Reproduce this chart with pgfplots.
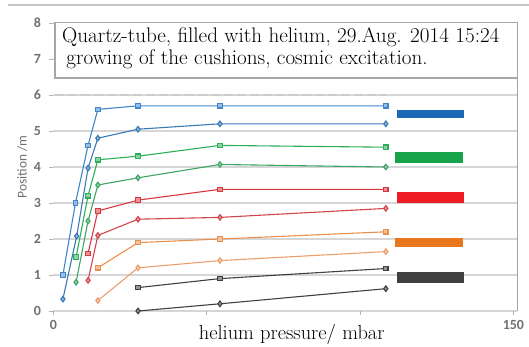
\documentclass[border=0pt]{standalone}
\usepackage{pgfplots}
\pgfplotsset{compat=1.18}
\usepackage{fontspec}
\newfontfamily\tickfont{Carlito}
\definecolor{cBlueA}{HTML}{3F86CC}
\definecolor{cBlueB}{HTML}{3A78B5}
\definecolor{cGreenA}{HTML}{2FAE5A}
\definecolor{cGreenB}{HTML}{3FA564}
\definecolor{cRedA}{HTML}{D9383F}
\definecolor{cRedB}{HTML}{D2454B}
\definecolor{cOrangeA}{HTML}{E99050}
\definecolor{cOrangeB}{HTML}{EBA06C}
\definecolor{cBlack}{HTML}{404040}
\definecolor{barBlue}{HTML}{1E68B8}
\definecolor{barGreen}{HTML}{16A34A}
\definecolor{barRed}{HTML}{EE1C24}
\definecolor{barOrange}{HTML}{E8771E}
\definecolor{barBlack}{HTML}{404040}
\definecolor{gridgray}{HTML}{D6D6D6}
\definecolor{ticktext}{HTML}{707070}
\begin{document}
\begin{tikzpicture}
\useasboundingbox (-53.4bp,-36bp) rectangle (475.6bp,311bp);
% outer frame line along the top
\draw[gray!45, line width=1.6bp] (-45bp,306bp) -- (475.6bp,306bp);
\begin{axis}[
  scale only axis, width=464bp, height=288bp,
  xmin=0, xmax=151.3, ymin=0, ymax=8,
  axis line style={draw=none},
  ytick={0,1,...,8}, xtick={0,50,100,150}, xticklabels={0,,,150},
  /pgf/number format/assume math mode=true,
  ymajorgrids, grid style={draw=gridgray, line width=1.3bp},
  ytick pos=left, xtick pos=bottom, tick align=outside,
  major tick length=4bp, tick style={draw=gray!60, line width=0.6bp},
  tick label style={font=\tickfont\bfseries\fontsize{14}{14}\selectfont, text=ticktext},
  yticklabel style={xshift=-5bp},
  xticklabel style={yshift=-2bp},
  clip=false,
  every axis plot/.append style={line width=1.1bp},
]
% row of data labels at y = 6
\addplot[gray!40, line width=2.2bp, dash pattern=on 9bp off 4bp] coordinates {(0.5,6) (108.5,6)};

% blue pair
\addplot[cBlueA, mark=square*, mark size=2.2bp, mark options={fill=cBlueA!55}]
  coordinates {(3.1,1.0) (7.2,3.0) (11.3,4.6) (14.5,5.6) (27.6,5.7) (54.3,5.7) (108.4,5.7)};
\addplot[cBlueB, mark=diamond*, mark size=2.8bp, mark options={fill=cBlueB!55}]
  coordinates {(3.1,0.33) (7.6,2.08) (11.3,3.97) (14.5,4.8) (27.6,5.05) (54.3,5.2) (108.4,5.2)};
% green pair
\addplot[cGreenA, mark=square*, mark size=2.2bp, mark options={fill=cGreenA!55}]
  coordinates {(7.4,1.5) (11.3,3.2) (14.5,4.2) (27.6,4.3) (54.3,4.6) (108.4,4.55)};
\addplot[cGreenB, mark=diamond*, mark size=2.8bp, mark options={fill=cGreenB!55}]
  coordinates {(7.4,0.8) (11.3,2.5) (14.5,3.5) (27.6,3.7) (54.3,4.07) (108.4,4.0)};
% red pair
\addplot[cRedA, mark=square*, mark size=2.2bp, mark options={fill=cRedA!55}]
  coordinates {(11.3,1.6) (14.5,2.78) (27.6,3.08) (54.3,3.38) (108.4,3.38)};
\addplot[cRedB, mark=diamond*, mark size=2.8bp, mark options={fill=cRedB!55}]
  coordinates {(11.3,0.85) (14.5,2.1) (27.6,2.55) (54.3,2.6) (108.4,2.85)};
% orange pair
\addplot[cOrangeA, mark=square*, mark size=2.2bp, mark options={fill=cOrangeA!55}]
  coordinates {(14.5,1.2) (27.6,1.9) (54.3,2.0) (108.4,2.2)};
\addplot[cOrangeB, mark=diamond*, mark size=2.8bp, mark options={fill=cOrangeB!55}]
  coordinates {(14.5,0.29) (27.6,1.2) (54.3,1.4) (108.4,1.65)};
% dark pair
\addplot[cBlack, mark=square*, mark size=2.2bp, mark options={fill=cBlack!55}]
  coordinates {(27.6,0.65) (54.3,0.9) (108.4,1.18)};
\addplot[cBlack, mark=diamond*, mark size=2.8bp, mark options={fill=cBlack!55}]
  coordinates {(27.6,0.0) (54.3,0.2) (108.4,0.62)};

% colour key bars
\addplot[fill=barBlue, draw=none, no markers] coordinates {(112,5.36) (134,5.36) (134,5.58) (112,5.58)} -- cycle;
\addplot[fill=barGreen, draw=none, no markers] coordinates {(111.5,4.11) (133.5,4.11) (133.5,4.41) (111.5,4.41)} -- cycle;
\addplot[fill=barRed, draw=none, no markers] coordinates {(112,3.0) (134,3.0) (134,3.31) (112,3.31)} -- cycle;
\addplot[fill=barOrange, draw=none, no markers] coordinates {(111.5,1.78) (133.5,1.78) (133.5,2.03) (111.5,2.03)} -- cycle;
\addplot[fill=barBlack, draw=none, no markers] coordinates {(112,0.78) (134,0.78) (134,1.08) (112,1.08)} -- cycle;

% right frame line and title box
\draw[gray!70, line width=0.9bp] (rel axis cs:1,0) -- (rel axis cs:1,0.81);
\draw[gray!70, line width=1.2bp, fill=white] (axis cs:0.5,6.47) rectangle (rel axis cs:1.001,1.003);
\node[anchor=base west, inner sep=0pt, font=\fontsize{21.2}{23}\selectfont]
  at (axis cs:2.8,7.47) {Quartz-tube, filled with helium, 29.Aug. 2014 15:24};
\node[anchor=base west, inner sep=0pt, font=\fontsize{21.2}{23}\selectfont]
  at (axis cs:4.2,6.86) {growing of the cushions, cosmic excitation.};

% axis titles
\node[anchor=base, fill=white, inner xsep=3bp, inner ysep=5bp, font=\fontsize{20.5}{22}\selectfont]
  at (axis cs:77.7,-0.8) {helium pressure/ mbar};
\node[rotate=90, anchor=center, text=ticktext, font=\tickfont\fontsize{13.5}{13.5}\selectfont]
  at (axis cs:-10.2,4.0) {Position /m};
\end{axis}
\end{tikzpicture}
\end{document}
